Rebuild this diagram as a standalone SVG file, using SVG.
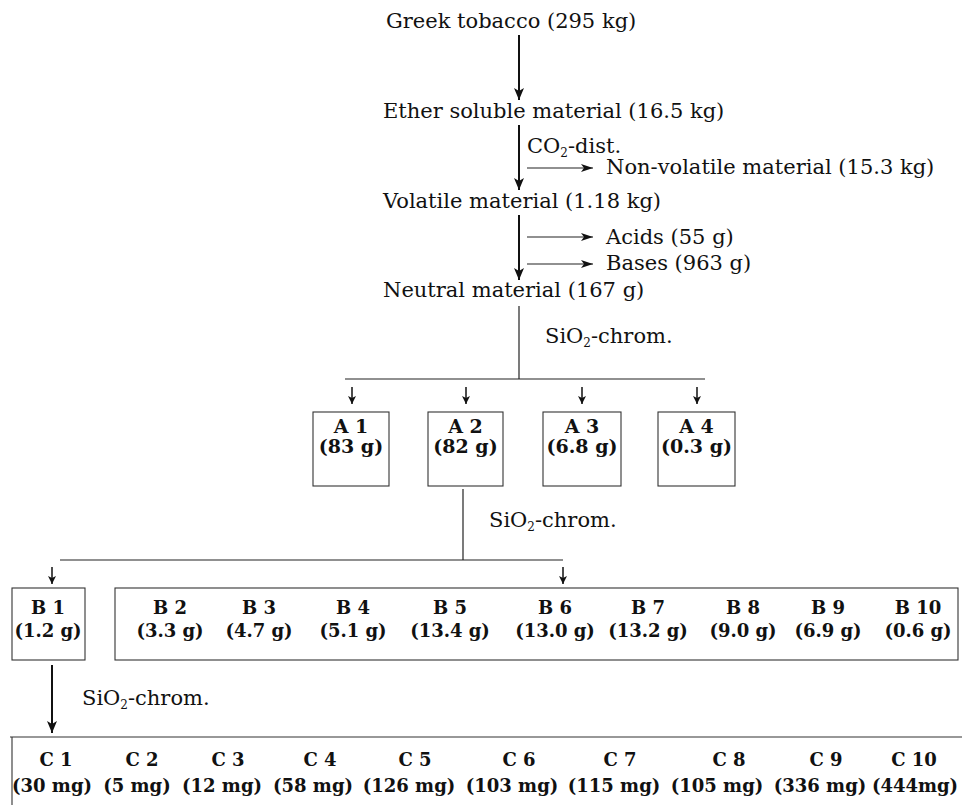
<svg xmlns="http://www.w3.org/2000/svg" width="962" height="805" viewBox="0 0 962 805">
<style>
text{font-family:"DejaVu Serif","Liberation Serif",serif;fill:#111;}
.r{font-size:21px;}
.b{font-size:18px;font-weight:bold;text-anchor:middle;}
.a{font-size:19px;}
.sub{font-size:12px;}
.main{stroke:#111;stroke-width:2;fill:none;}
.thin{stroke:#222;stroke-width:1.2;fill:none;}
.box{stroke:#333;stroke-width:1.1;fill:none;}
</style>
<defs>
<marker id="big" viewBox="0 0 12 10" refX="12" refY="5" markerWidth="12" markerHeight="10" orient="auto" markerUnits="userSpaceOnUse"><path d="M0,0 L12,5 L0,10 L3,5 z" fill="#111"/></marker>
<marker id="hz" viewBox="0 0 12 8" refX="12" refY="4" markerWidth="12" markerHeight="8" orient="auto" markerUnits="userSpaceOnUse"><path d="M0,0 L12,4 L0,8 L3,4 z" fill="#111"/></marker>
<marker id="sm" viewBox="0 0 8 8" refX="8" refY="4" markerWidth="8" markerHeight="8" orient="auto" markerUnits="userSpaceOnUse"><path d="M0,0 L8,4 L0,8 L2,4 z" fill="#111"/></marker>
</defs>

<g id="connectors">
<path class="main" d="M519,35 V100" marker-end="url(#big)"/>
<path class="main" d="M519,125 V190" marker-end="url(#big)"/>
<path class="thin" d="M527,168 H593" marker-end="url(#hz)"/>
<path class="main" d="M519,215 V280" marker-end="url(#big)"/>
<path class="thin" d="M527,237 H593" marker-end="url(#hz)"/>
<path class="thin" d="M527,264 H593" marker-end="url(#hz)"/>
<path class="thin" d="M519,306 V379"/>
<path class="thin" d="M345,379 H705"/>
<path class="main" style="stroke-width:1.5" d="M352,387 V404" marker-end="url(#sm)"/>
<path class="main" style="stroke-width:1.5" d="M466,387 V404" marker-end="url(#sm)"/>
<path class="main" style="stroke-width:1.5" d="M582,387 V404" marker-end="url(#sm)"/>
<path class="main" style="stroke-width:1.5" d="M697,387 V404" marker-end="url(#sm)"/>
<path class="thin" d="M463,489 V560"/>
<path class="thin" d="M60,560 H563"/>
<path class="main" style="stroke-width:1.5" d="M52,567 V584" marker-end="url(#sm)"/>
<path class="main" style="stroke-width:1.5" d="M563,567 V584" marker-end="url(#sm)"/>
<path class="main" d="M52,665 V733" marker-end="url(#big)"/>
<text class="r" x="527" y="153">CO<tspan class="sub" dy="4">2</tspan><tspan dy="-4">-dist.</tspan></text>
<text class="r" x="545" y="343">SiO<tspan class="sub" dy="4">2</tspan><tspan dy="-4">-chrom.</tspan></text>
<text class="r" x="489" y="527">SiO<tspan class="sub" dy="4">2</tspan><tspan dy="-4">-chrom.</tspan></text>
<text class="r" x="82" y="705">SiO<tspan class="sub" dy="4">2</tspan><tspan dy="-4">-chrom.</tspan></text>
</g>

<g id="greek"><text class="r" x="386" y="28">Greek tobacco (295 kg)</text></g>
<g id="ether"><text class="r" x="383" y="118">Ether soluble material (16.5 kg)</text></g>
<g id="nonvolatile"><text class="r" x="606" y="174">Non-volatile material (15.3 kg)</text></g>
<g id="volatile"><text class="r" x="383" y="208">Volatile material (1.18 kg)</text></g>
<g id="acids"><text class="r" x="606" y="244">Acids (55 g)</text></g>
<g id="bases"><text class="r" x="606" y="270">Bases (963 g)</text></g>
<g id="neutral"><text class="r" x="383" y="297">Neutral material (167 g)</text></g>

<g id="A1"><rect class="box" x="313" y="412" width="76" height="74"/><text class="b a" x="351" y="433">A 1</text><text class="b a" x="351" y="453">(83 g)</text></g>
<g id="A2"><rect class="box" x="428" y="412" width="75" height="74"/><text class="b a" x="465.5" y="433">A 2</text><text class="b a" x="465.5" y="453">(82 g)</text></g>
<g id="A3"><rect class="box" x="543" y="412" width="78" height="74"/><text class="b a" x="582" y="433">A 3</text><text class="b a" x="582" y="453">(6.8 g)</text></g>
<g id="A4"><rect class="box" x="658" y="412" width="77" height="74"/><text class="b a" x="696.5" y="433">A 4</text><text class="b a" x="696.5" y="453">(0.3 g)</text></g>

<g id="B1"><rect class="box" x="12" y="588" width="73" height="72"/><text class="b" x="48" y="614">B 1</text><text class="b" x="48" y="637">(1.2 g)</text></g>
<g id="B2-B10"><rect class="box" x="115" y="588" width="843" height="72"/>
<text class="b" x="170" y="614">B 2</text><text class="b" x="170" y="637">(3.3 g)</text>
<text class="b" x="259" y="614">B 3</text><text class="b" x="259" y="637">(4.7 g)</text>
<text class="b" x="353" y="614">B 4</text><text class="b" x="353" y="637">(5.1 g)</text>
<text class="b" x="450" y="614">B 5</text><text class="b" x="450" y="637">(13.4 g)</text>
<text class="b" x="555" y="614">B 6</text><text class="b" x="555" y="637">(13.0 g)</text>
<text class="b" x="648" y="614">B 7</text><text class="b" x="648" y="637">(13.2 g)</text>
<text class="b" x="743" y="614">B 8</text><text class="b" x="743" y="637">(9.0 g)</text>
<text class="b" x="828" y="614">B 9</text><text class="b" x="828" y="637">(6.9 g)</text>
<text class="b" x="918" y="614">B 10</text><text class="b" x="918" y="637">(0.6 g)</text>
</g>

<g id="C1-C10"><path class="box" d="M10,737 H962 M12,737 V805"/>
<text class="b" x="56" y="766">C 1</text><text class="b" x="52" y="792">(30 mg)</text>
<text class="b" x="142" y="766">C 2</text><text class="b" x="137" y="792">(5 mg)</text>
<text class="b" x="228" y="766">C 3</text><text class="b" x="222" y="792">(12 mg)</text>
<text class="b" x="320" y="766">C 4</text><text class="b" x="313" y="792">(58 mg)</text>
<text class="b" x="415" y="766">C 5</text><text class="b" x="409" y="792">(126 mg)</text>
<text class="b" x="519" y="766">C 6</text><text class="b" x="512" y="792">(103 mg)</text>
<text class="b" x="620" y="766">C 7</text><text class="b" x="614" y="792">(115 mg)</text>
<text class="b" x="729" y="766">C 8</text><text class="b" x="717" y="792">(105 mg)</text>
<text class="b" x="826" y="766">C 9</text><text class="b" x="820" y="792">(336 mg)</text>
<text class="b" x="914" y="766">C 10</text><text class="b" x="915" y="792">(444mg)</text>
</g>
</svg>
